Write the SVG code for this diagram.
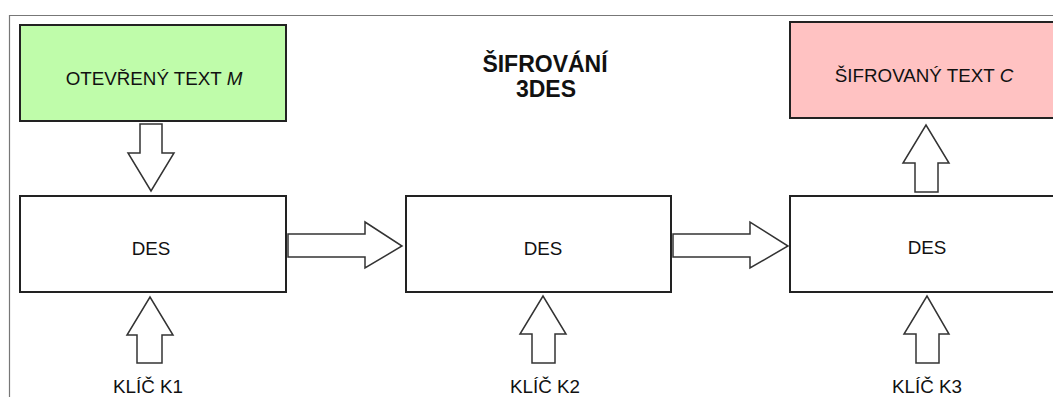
<svg xmlns="http://www.w3.org/2000/svg" width="1053" height="397" viewBox="0 0 1053 397">
<style>
.box{stroke:#222;stroke-width:2}
.arr{fill:#fff;stroke:#333;stroke-width:1.5;stroke-linejoin:miter}
.t{font-family:"Liberation Sans",Arial,sans-serif;font-size:18.8px;fill:#111;text-anchor:middle}
.title{font-family:"Liberation Sans",Arial,sans-serif;font-size:23px;font-weight:bold;fill:#111;text-anchor:middle}
</style>
<rect x="0" y="0" width="1053" height="397" fill="#fff"/>
<path d="M9.5 397 V15.5 H1053" fill="none" stroke="#777" stroke-width="1.2"/>
<g id="title"><text class="title" x="545" y="72">ŠIFROVÁNÍ</text><text class="title" x="546" y="97">3DES</text></g>
<g id="plaintext"><rect class="box" x="20" y="25" width="266" height="96" fill="#bffcaa"/><text class="t" x="154" y="85">OTEVŘENÝ TEXT <tspan font-style="italic">M</tspan></text></g>
<g id="ciphertext"><rect class="box" x="790" y="22" width="280" height="96" fill="#ffc2c2"/><text class="t" x="924" y="82">ŠIFROVANÝ TEXT <tspan font-style="italic">C</tspan></text></g>
<g id="des1"><rect class="box" x="20" y="196" width="266" height="96" fill="#fff"/><text class="t" x="151" y="255">DES</text></g>
<g id="des2"><rect class="box" x="406" y="196" width="265" height="96" fill="#fff"/><text class="t" x="543" y="255">DES</text></g>
<g id="des3"><rect class="box" x="790" y="196" width="280" height="96" fill="#fff"/><text class="t" x="927" y="254">DES</text></g>
<g id="k1"><text class="t" x="148" y="393">KLÍČ K1</text></g>
<g id="k2"><text class="t" x="545" y="393">KLÍČ K2</text></g>
<g id="k3"><text class="t" x="927" y="393">KLÍČ K3</text></g>
<g id="connectors">
<path class="arr" d="M140 124 H162 V153 H174 L151 191 L128 153 H140 Z"/>
<path class="arr" d="M288 234 H365 V222 L402 246 L365 268 V257 H288 Z"/>
<path class="arr" d="M673 234 H750 V222 L788 246 L750 268 V257 H673 Z"/>
<path class="arr" d="M137 363 V335 H127 L150 297 L173 335 H162 V363 Z"/>
<path class="arr" d="M532 363 V334 H520 L543 296 L566 334 H555 V363 Z"/>
<path class="arr" d="M916 363 V334 H904 L927 296 L949 334 H939 V363 Z"/>
<path class="arr" d="M915 192 V163 H903 L926 125 L949 163 H938 V192 Z"/>
</g>
</svg>
